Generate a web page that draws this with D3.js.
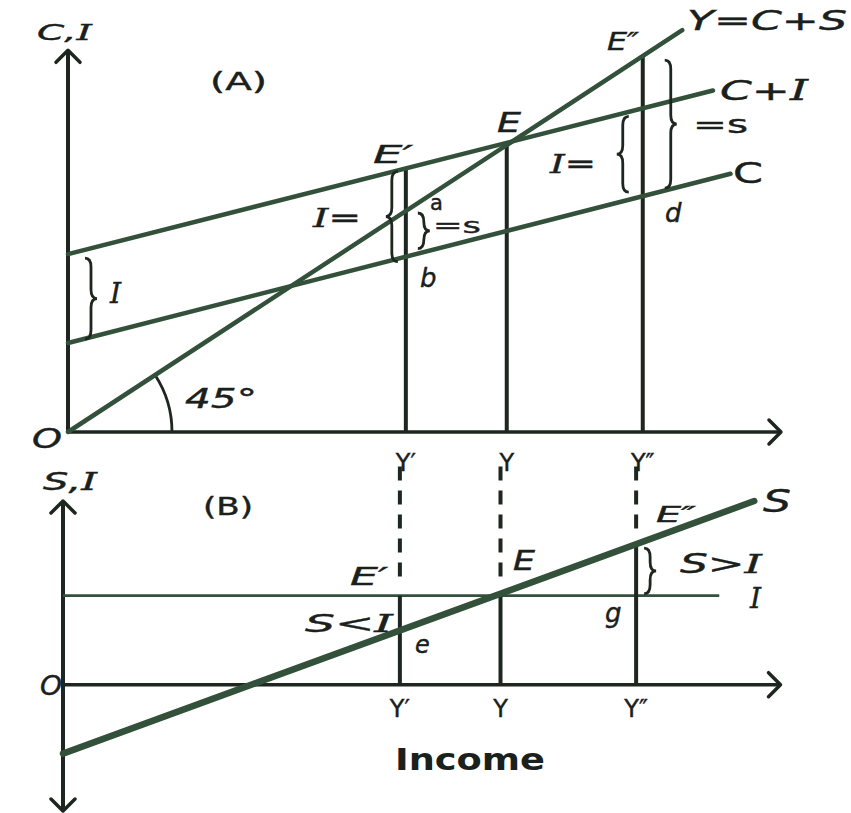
<!DOCTYPE html>
<html>
<head>
<meta charset="utf-8">
<script src="https://cdn.jsdelivr.net/npm/d3@7"></script>
<style>
  body { margin: 0; background: #fff; }
  text { font-family: "DejaVu Sans", sans-serif; fill: #1a201c; stroke: #1a201c; stroke-width: 0.4; }
  .var { font-style: italic; }
  .serifI { font-family: "DejaVu Serif", serif; font-style: italic; }
  .title { font-weight: bold; stroke-width: 0; }
</style>
</head>
<body>
<div id="chart-area"></div>
<script>
// Income levels marked on both panels
var incomeLabels = ["Y\u2032", "Y", "Y\u2033"];
var incomeValues = [77, 100, 131];

// Panel (A): lines as [income, value] end points
var line45 = [[0, 0], [140, 140]];
var consumption = [[0, 31], [151, 90]];
var consPlusInv = [[0, 62], [147, 119]];
var investment = 31;

// Panel (B)
var saving = [[0, -24], [158, 64]];
var investB = [[0, 31], [150, 31]];

var width = 851, height = 813;
var ink = "#1d261f", lineCol = "#33503b";

var svg = d3.select("#chart-area")
    .append("svg")
        .attr("width", width)
        .attr("height", height);

// Scales
var xA = d3.scaleLinear().domain([0, 160]).range([68, 770]);
var yA = d3.scaleLinear().domain([0, 133]).range([432, 50.3]);
var xB = d3.scaleLinear().domain([0, 160]).range([63, 763]);
var yB = d3.scaleLinear().domain([-44, 64]).range([811, 501]);

function valueAt(seg, x) {
    var a = seg[0], b = seg[1];
    return a[1] + (b[1] - a[1]) * (x - a[0]) / (b[0] - a[0]);
}

var path = d3.line();

function arrow(tipX, tipY, dir) {
    var s = 12, pts;
    if (dir == "up") pts = [[tipX - s, tipY + s], [tipX, tipY], [tipX + s, tipY + s]];
    if (dir == "down") pts = [[tipX - s, tipY - s], [tipX, tipY], [tipX + s, tipY - s]];
    if (dir == "right") pts = [[tipX - s, tipY - s], [tipX, tipY], [tipX - s, tipY + s]];
    svg.append("path")
        .attr("d", path(pts))
        .attr("fill", "none")
        .attr("stroke", ink)
        .attr("stroke-width", 3.5)
        .attr("stroke-linecap", "round")
        .attr("stroke-linejoin", "round");
}

function brace(x, y1, y2, dir) {
    // dir 1 = "}", -1 = "{"
    var w = 12 * dir, r = Math.min(9, (y2 - y1) / 4), ym = (y1 + y2) / 2;
    var h = x + w / 2;
    var d = "M" + x + "," + y1 +
        " Q" + h + "," + y1 + " " + h + "," + (y1 + r) +
        " L" + h + "," + (ym - r) +
        " Q" + h + "," + ym + " " + (x + w) + "," + ym +
        " Q" + h + "," + ym + " " + h + "," + (ym + r) +
        " L" + h + "," + (y2 - r) +
        " Q" + h + "," + y2 + " " + x + "," + y2;
    svg.append("path")
        .attr("d", d)
        .attr("fill", "none")
        .attr("stroke", ink)
        .attr("stroke-width", 2.8);
}

// text label; "len" stretches it sideways to the width seen in the scan
function label(x, y, parts, size, len, cls) {
    var t = svg.append("text")
        .attr("transform", "translate(" + x + "," + y + ")")
        .attr("font-size", size)
        .attr("class", cls == null ? "var" : cls);
    parts.forEach(p => {
        if (p == "I") t.append("tspan").attr("class", "serifI").text("I");
        else t.append("tspan").text(p);
    });
    if (len) {
        var w = t.node().getComputedTextLength();
        t.attr("transform", "translate(" + x + "," + y + ") scale(" + (len / w) + ",1)");
    }
    return t;
}

function seg(x1, y1, x2, y2, w, col, dash) {
    svg.append("line")
        .attr("x1", x1).attr("y1", y1)
        .attr("x2", x2).attr("y2", y2)
        .attr("stroke", col || ink)
        .attr("stroke-width", w || 3)
        .attr("stroke-dasharray", dash || null);
}

// ---------- Panel A ----------
seg(xA(0), yA(0), xA(0), yA(133), 4);
seg(xA(0), yA(0), xA(162.5), yA(0), 3.5);
arrow(xA(0), yA(133), "up");
arrow(xA(162.5), yA(0), "right");

// income verticals
var topsA = [valueAt(consPlusInv, incomeValues[0]), valueAt(consPlusInv, incomeValues[1]), valueAt(line45, incomeValues[2])];
incomeValues.forEach((v, i) => {
    seg(xA(v), yA(0), xA(v), yA(topsA[i]), 4, ink);
});

// 45 degree arc
var arcR = 104, ang = Math.atan2(yA(0) - yA(100), xA(100) - xA(0));
svg.append("path")
    .attr("d", "M" + (xA(0) + arcR) + "," + yA(0) +
        " A" + arcR + "," + arcR + " 0 0 0 " + (xA(0) + arcR * Math.cos(ang)) + "," + (yA(0) - arcR * Math.sin(ang)))
    .attr("fill", "none")
    .attr("stroke", ink)
    .attr("stroke-width", 2.8);

[line45, consPlusInv, consumption].forEach(s => {
    svg.append("path")
        .attr("d", path(s.map(p => [xA(p[0]), yA(p[1])])))
        .attr("stroke", lineCol)
        .attr("stroke-width", 4.5)
        .attr("stroke-linecap", "round")
        .attr("fill", "none");
});

// braces in A
brace(xA(0) + 17, yA(valueAt(consPlusInv, 0)) + 4, yA(valueAt(consumption, 0)) - 4, 1);
brace(xA(incomeValues[0]) - 8, yA(valueAt(consPlusInv, incomeValues[0])) + 3, yA(valueAt(consumption, incomeValues[0])) + 5, -1);
brace(xA(incomeValues[0]) + 12, yA(valueAt(line45, incomeValues[0])) + 2, yA(valueAt(consumption, incomeValues[0])) - 8, 1);
brace(xA(incomeValues[2]) - 14, yA(valueAt(consPlusInv, incomeValues[2])) + 8, yA(valueAt(consumption, incomeValues[2])) - 4, -1);
brace(xA(incomeValues[2]) + 22, yA(valueAt(line45, incomeValues[2])) + 4, yA(valueAt(consumption, incomeValues[2])) - 8, 1);

// labels A
label(37, 40, ["C,", "I"], 22, 55);
label(210, 90, ["(A)"], 24, 57, "");
label(373, 163, ["E\u2032"], 25, 40);
label(497, 132, ["E"], 26, 24);
label(607, 50, ["E\u2033"], 25, 32);
label(687, 30, ["Y=C+S"], 27, 160);
label(720, 100, ["C+", "I"], 27, 88);
label(693, 133, ["=s"], 24, 55, "");
label(550, 173, ["I", "="], 26, 46);
label(733, 183, ["C"], 28, 30, "");
label(665, 222, ["d"], 26);
label(430, 210, ["a"], 21, null, "");
label(433, 233, ["=s"], 22, 48, "");
label(420, 287, ["b"], 26);
label(313, 227, ["I", "="], 26, 48);
label(110, 303, ["I"], 28);
label(185, 408, ["45\u00b0"], 27, 72);
label(32, 448, ["O"], 26, 30);
incomeValues.forEach((v, i) => {
    label(xA(v), 471, [incomeLabels[i]], 24, null, "")
        .attr("text-anchor", "middle");
});

// ---------- Panel B ----------
seg(xB(0), yB(-44), xB(0), yB(64), 4);
seg(xB(0), yB(0), xB(164), yB(0), 3.5);
arrow(xB(0), yB(64), "up");
arrow(xB(0), yB(-44), "down");
arrow(xB(164), yB(0), "right");

svg.append("path")
    .attr("d", path(investB.map(p => [xB(p[0]), yB(p[1])])))
    .attr("stroke", lineCol)
    .attr("stroke-width", 2.8)
    .attr("fill", "none");

// verticals: dashed link from panel A, then solid
var topsB = [investment, investment, valueAt(saving, incomeValues[2])];
incomeValues.forEach((v, i) => {
    seg(xB(v), yB(76), xB(v), yB(topsB[i]) - 10, 4, ink, "14,10");
    seg(xB(v), yB(0), xB(v), yB(topsB[i]), 4, ink);
});

svg.append("path")
    .attr("d", path(saving.map(p => [xB(p[0]), yB(p[1])])))
    .attr("stroke", lineCol)
    .attr("stroke-width", 6.5)
    .attr("stroke-linecap", "round")
    .attr("fill", "none");

brace(xB(incomeValues[2]) + 8, yB(valueAt(saving, incomeValues[2])) + 4, yB(investment) - 2, 1);

// labels B
label(43, 490, ["S,", "I"], 24, 54);
label(203, 515, ["(B)"], 24, 50, "");
label(350, 585, ["E\u2032"], 24, 38);
label(305, 632, ["S<", "I"], 24, 88);
label(415, 653, ["e"], 24);
label(513, 570, ["E"], 26, 22);
label(605, 622, ["g"], 26);
label(656, 522, ["E\u2033"], 22, 40);
label(680, 573, ["S>", "I"], 26, 82);
label(750, 608, ["I"], 28);
label(763, 512, ["S"], 32, 28);
label(40, 695, ["O"], 26, 22);
incomeValues.forEach((v, i) => {
    label(xB(v), 717, [incomeLabels[i]], 24, null, "")
        .attr("text-anchor", "middle");
});
label(395, 770, ["Income"], 30, 150, "title");
</script>
</body>
</html>
